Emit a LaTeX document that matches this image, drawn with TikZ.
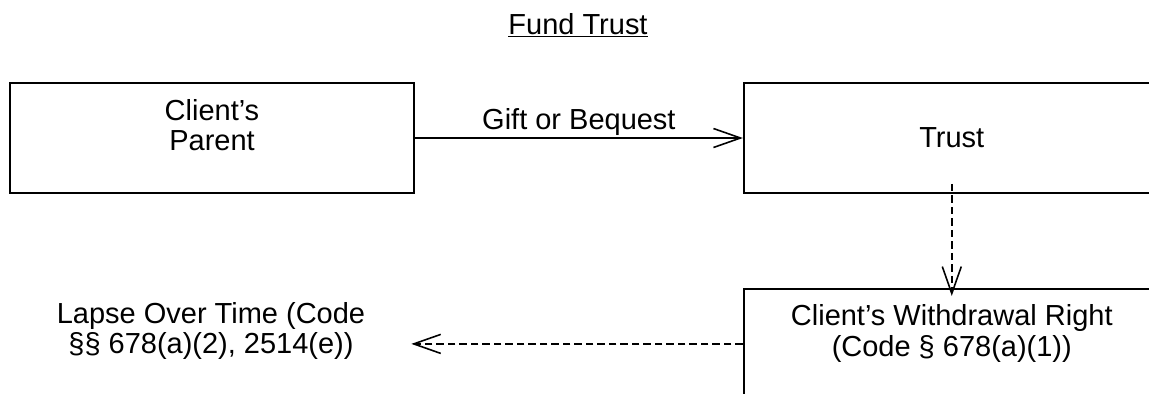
\documentclass[tikz,border=0pt]{standalone}
\usepackage{fontspec}
\setmainfont{Liberation Sans}
\usetikzlibrary{arrows.meta, positioning}

\begin{document}
\begin{tikzpicture}[x=0.02cm, y=-0.02cm,
   party/.style={draw=black, line width=1.1pt, minimum width=8.08cm, minimum height=2.2cm,
                 align=center, font=\fontsize{16.5}{17.6}\selectfont},
   wide/.style={party, minimum width=8.32cm},
   twoline/.style={text depth=0.52cm},
   note/.style={align=center, font=\fontsize{16.5}{17.6}\selectfont},
   flow/.style={-{Straight Barb[length=0.54cm, width=0.38cm, line width=0.9pt]}, line width=0.9pt},
   dashflow/.style={flow, dash pattern=on 0.15cm off 0.08cm},
   node distance=1.88cm and 6.56cm]

 \useasboundingbox (0,0) rectangle (1149,393);
 \clip (0,0) rectangle (1149,393);

 \node[note, anchor=base] (title) at (578,34) {\underline{Fund Trust}};

 \node[party, twoline] (parent) at (212,138) {Client’s\\Parent};
 \node[wide, right=of parent] (trust) {Trust};
 \node[wide, twoline, below=of trust] (withdraw) {Client’s Withdrawal Right\\(Code § 678(a)(1))};
 \node[note] (lapse) at (211,331) {Lapse Over Time (Code\\§§ 678(a)(2), 2514(e))};

 \draw[flow] (parent) -- node[above, inner sep=1pt, font=\fontsize{16.5}{17.6}\selectfont]{Gift or Bequest} (trust);
 \draw[dashflow] ([yshift=0.2cm]trust.south) -- ([yshift=-0.16cm]withdraw.north);
 \draw[dashflow, shorten >=0.8cm] (withdraw.west) -- (withdraw.west -| lapse.east);
\end{tikzpicture}
\end{document}
